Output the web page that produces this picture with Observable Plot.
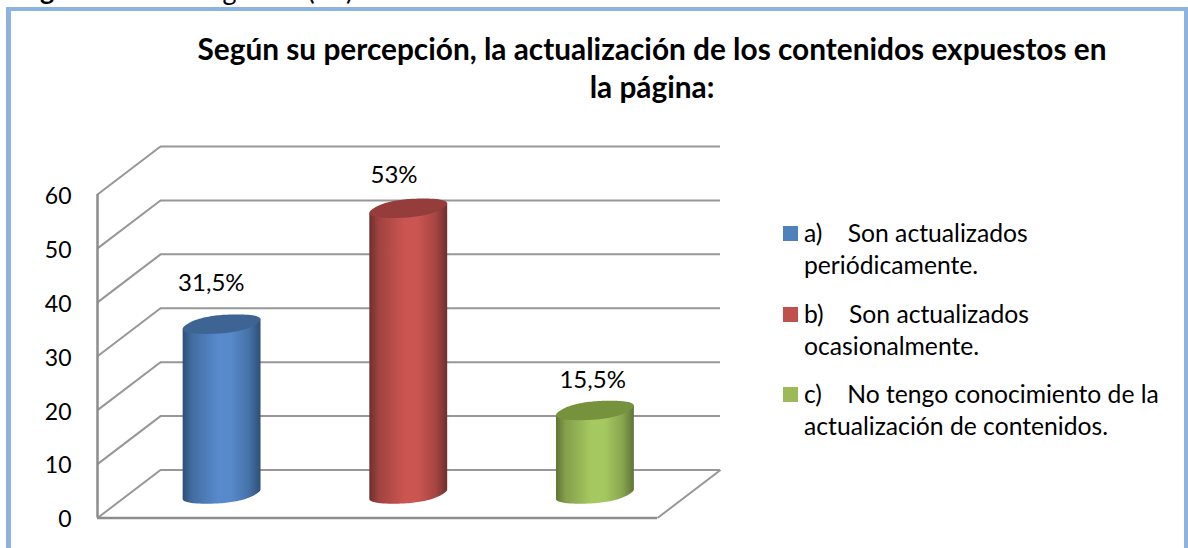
<!DOCTYPE html>
<html><head><meta charset="utf-8">
<script src="https://cdn.jsdelivr.net/npm/d3@7"></script>
<script src="https://cdn.jsdelivr.net/npm/@observablehq/plot@0.6"></script>
<style>
html,body{margin:0;padding:0;background:#fff;overflow:hidden}
#page{position:relative;width:1188px;height:548px;overflow:hidden;font-family:Lato,"Liberation Sans",sans-serif;color:#000}
#frame{position:absolute;left:6px;top:7px;height:560px;border:4px solid #8db3e2;border-left-width:5px;box-sizing:border-box;border-right-width:4px;width:1182px}
#top{position:absolute;left:0;top:-25px;width:600px;height:30px;font:27px/30px Lato}
#top span{position:absolute;top:0;white-space:pre;word-spacing:11px}
#title{position:absolute;left:152px;top:30px;width:1000px;text-align:center;font:bold 29.8px/38px Lato}
#chart{position:absolute;left:0;top:0}
#legend{position:absolute;left:783px;top:217px;font-size:24.7px;line-height:32px;width:395px}
.it{position:relative;padding-left:21px;margin-bottom:16.5px}
.sw{position:absolute;left:0;top:9px;width:15px;height:15px}
</style></head><body><div id="page">
<div id="top"></div><div id="frame"></div><div id="chart"></div><div id="title"></div><div id="legend"></div>
</div>
<script>
const categories = ["a","b","c"];
const values = [31.5, 53, 15.5];
const valueLabels = ["31,5%","53%","15,5%"];
const yTicks = [0,10,20,30,40,50,60];
const colors = ["#4f81bd","#c0504d","#9bbb59"];
const light = ["#5789cb","#cb5551","#a6c861"];
const dark = ["#2f4f78","#6e2f2d","#5f7436"];
const topCap = ["#3d6492","#953d3b","#76923c"];
const legendLines = [
  ["a)\u00a0\u00a0\u00a0 Son actualizados","periódicamente."],
  ["b)\u00a0\u00a0\u00a0 Son actualizados","ocasionalmente."],
  ["c)\u00a0\u00a0\u00a0 No tengo conocimiento de la","actualización de contenidos."]
];
const titleLines = ["Según su percepción, la actualización de los contenidos expuestos en","la página:"];
const topBold = "Figura", topRegular = "Pregunta (13) encuesta.";

// Oblique 3-D frame, expressed in scale units
const depthX = 0.3375, depthY = 8.9, nCat = 3;
const rx = 0.185, bx = 0.08, cy = 1.8;   // cylinder radius & skew in scale units
const centre = i => i + .5 + depthX/2 - .004;
const round = c => Math.sign(c)*Math.pow(Math.abs(c),.85);

const at = (i,a,v)=>{const t=a*Math.PI/180,C=round(Math.cos(t)),S=round(Math.sin(t));
  return {x:centre(i)+rx*C+bx*S,y:depthY/2+v+cy*S};};
const ellipse = (i,v) => d3.range(0,361,3).map(a=>at(i,a,v));
function body(i, v){
  const ring = ellipse(i,0);
  const r = d3.greatest(d3.range(ring.length),k=>ring[k].x)*3;  // angle of right-most point
  const pts=[];
  for(let a=r;a>=r-180;a-=3) pts.push(at(i,a,0));     // lower front arc
  pts.push(at(i,r-180,v), at(i,r,v), at(i,r,0));
  return pts;
}
const defs = () => {
  const s = d3.create("svg:defs");
  categories.forEach((c,i)=>{
    const g = s.append("linearGradient").attr("id","cyl"+c);
    [[0,dark[i]],[.12,d3.interpolateRgb(dark[i],colors[i])(.6)],[.45,light[i]],[.62,light[i]],[.85,d3.interpolateRgb(dark[i],colors[i])(.7)],[1,dark[i]]]
      .forEach(([o,col])=>g.append("stop").attr("offset",o).attr("stop-color",col));
  });
  return s.node();
};
const gridColor="#979797";
const table = categories.map((c,i)=>({c,i,v:values[i],label:valueLabels[i]}));
// the reference's data labels were placed by hand, each with its own nudge
const nudge = {a:[-11,-17],b:[-15,-9],c:[-3,-6]};

const plot = Plot.plot({
  width:1188,height:548,marginLeft:97,marginTop:194,marginBottom:30.5,marginRight:531,
  style:{background:"transparent",overflow:"visible"},
  x:{domain:[0,nCat],range:[97,657],axis:null},
  y:{domain:[0,60],range:[517.5,194],axis:null},
  marks:[
    defs,
    Plot.ruleY(yTicks,{x1:depthX,x2:nCat+depthX,y:d=>d+depthY,stroke:gridColor,strokeWidth:2}),
    Plot.link(yTicks,{x1:0,x2:depthX,y1:d=>d,y2:d=>d+depthY,stroke:gridColor,strokeWidth:2}),
    Plot.link([0],{x1:nCat,x2:nCat+depthX,y1:0,y2:depthY,stroke:gridColor,strokeWidth:2}),
    Plot.ruleX([0],{y1:0,y2:60,stroke:"#8c8c8c",strokeWidth:2.5}),
    Plot.ruleY([0],{x1:0,x2:nCat,stroke:"#8c8c8c",strokeWidth:2.5}),
    Plot.axisY({ticks:yTicks,tickSize:0,tickPadding:26,label:null,fontSize:23,fontFamily:"Lato",fill:"#000",dy:2}),
    ...table.flatMap(d=>[
      Plot.line(body(d.i,d.v),{x:"x",y:"y",fill:`url(#cyl${d.c})`,stroke:"none"}),
      Plot.line(ellipse(d.i,d.v),{x:"x",y:"y",fill:topCap[d.i],stroke:"none"}),
      Plot.text([d],{x:e=>e.i+.5+depthX/2,y:e=>e.v+depthY,text:"label",dx:nudge[d.c][0],dy:nudge[d.c][1],fontSize:24,fontFamily:"Lato",fill:"#000"})
    ])
  ]
});
document.getElementById("chart").append(plot);
const tp=document.getElementById("top");
tp.innerHTML=`<span style="left:18px;font-weight:bold">${topBold}</span><span style="left:183px">${topRegular}</span>`;
document.getElementById("title").innerHTML = titleLines.join("<br>");
const lg=document.getElementById("legend");
categories.forEach((c,i)=>{
  const it=document.createElement("div");it.className="it";
  const sw=document.createElement("div");sw.className="sw";sw.style.background=colors[i];it.append(sw);
  legendLines[i].forEach(t=>{const l=document.createElement("div");l.textContent=t;it.append(l);});
  lg.append(it);
});
</script></body></html>
